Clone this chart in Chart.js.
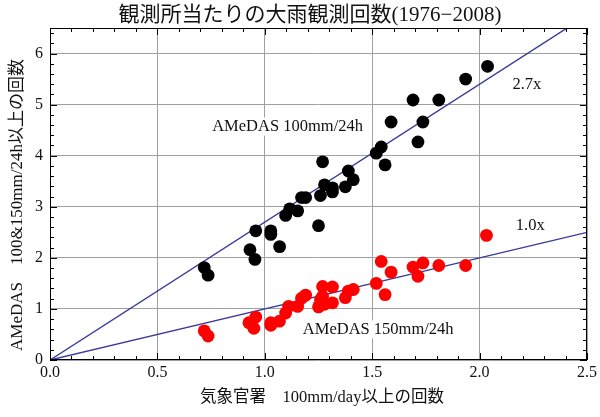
<!DOCTYPE html>
<html><head><meta charset="utf-8">
<script src="https://cdn.jsdelivr.net/npm/chart.js@4.4.0/dist/chart.umd.min.js"></script>
<style>html,body{margin:0;padding:0;background:#fff}</style>
</head><body>
<canvas id="c" width="600" height="417" style="width:600px;height:417px;display:block"></canvas>
<script>
// ---- data ----
const heavy100X = [0.718,0.736,0.931,0.954,0.958,1.028,1.028,1.069,1.097,1.116,1.153,1.171,1.190,1.250,1.259,1.278,1.315,1.315,1.375,1.269,1.389,1.412,1.519,1.542,1.560,1.588,1.690,1.713,1.736,1.810,1.935,2.037];
const heavy100Y = [1.81,1.66,2.16,1.97,2.53,2.53,2.46,2.22,2.83,2.96,2.92,3.18,3.18,2.63,3.22,3.43,3.29,3.37,3.39,3.88,3.70,3.53,4.05,4.17,3.82,4.66,5.09,4.27,4.66,5.09,5.50,5.75];
const heavy150X = [0.718,0.736,0.926,0.949,0.958,1.028,1.028,1.068,1.097,1.111,1.153,1.171,1.190,1.250,1.259,1.269,1.269,1.278,1.315,1.315,1.375,1.389,1.412,1.519,1.542,1.560,1.588,1.690,1.713,1.736,1.810,1.935,2.032];
const heavy150Y = [0.57,0.47,0.73,0.62,0.84,0.73,0.68,0.76,0.92,1.05,1.05,1.21,1.27,1.04,1.18,1.25,1.44,1.09,1.43,1.12,1.22,1.35,1.38,1.50,1.93,1.28,1.72,1.82,1.64,1.90,1.85,1.85,2.44];
const slopes = [2.7, 1.0];
const xTickValues = [0, 0.5, 1.0, 1.5, 2.0, 2.5];
const yTickValues = [0, 1, 2, 3, 4, 5, 6];
const xRange = [0, 2.5];
const yRange = [0, 6.5];
const titleText = '観測所当たりの大雨観測回数(1976−2008)';
const xTitle = '気象官署　100mm/day以上の回数';
const yTitle = 'AMeDAS　100&150mm/24h以上の回数';
const labels = ['AMeDAS 100mm/24h', '2.7x', '1.0x', 'AMeDAS 150mm/24h'];

const SERIF = '"Liberation Serif", "Noto Sans CJK JP", serif';
const toPts = (xs, ys) => xs.map((x, i) => ({x: x, y: ys[i]}));
const linePts = s => [{x: xRange[0], y: xRange[0] * s}, {x: xRange[1], y: xRange[1] * s}];

const textPlacement = [ // data-space anchors for the annotation texts
  {t: labels[0], x: 1.106, y: 4.57},
  {t: labels[1], x: 2.22, y: 5.39},
  {t: labels[2], x: 2.236, y: 2.63},
  {t: labels[3], x: 1.528, y: 0.60}
];

const decor = {
  id: 'decor',
  afterDraw(chart) {
    const ctx = chart.ctx, a = chart.chartArea;
    const xs = chart.scales.x, ys = chart.scales.y;
    ctx.save();
    ctx.strokeStyle = '#000';
    ctx.lineWidth = 1;
    ctx.strokeRect(a.left + 0.5, a.top + 0.5, a.right - a.left - 1, a.bottom - a.top - 1);
    ctx.beginPath();
    for (let i = 0; i <= 25; i++) {
      const v = i / 10;
      const px = Math.round(xs.getPixelForValue(v)) + 0.5;
      const len = (i % 5 === 0) ? 7 : 4;
      ctx.moveTo(px, a.bottom); ctx.lineTo(px, a.bottom - len);
      ctx.moveTo(px, a.top); ctx.lineTo(px, a.top + len);
    }
    for (let i = 0; i <= 32; i++) {
      const v = i / 5;
      const py = Math.round(ys.getPixelForValue(v)) + 0.5;
      const len = (i % 5 === 0) ? 7 : 4;
      ctx.moveTo(a.left, py); ctx.lineTo(a.left + len, py);
      ctx.moveTo(a.right, py); ctx.lineTo(a.right - len, py);
    }
    ctx.stroke();

    ctx.fillStyle = '#111';
    ctx.textAlign = 'center';
    ctx.textBaseline = 'middle';
    ctx.font = '16.5px ' + SERIF;
    textPlacement.forEach(p => {
      const px = xs.getPixelForValue(p.x), py = ys.getPixelForValue(p.y);
      ctx.fillStyle = '#fff';
      const w = ctx.measureText(p.t).width;
      if (p.t.length > 5) ctx.fillRect(px - w / 2 - 3, py - 9, w + 6, 18);
      ctx.fillStyle = '#111';
      ctx.fillText(p.t, px, py);
    });

    ctx.font = '21px ' + SERIF;
    ctx.fillText(titleText, 310, 15);
    ctx.font = '16.5px ' + SERIF;
    ctx.fillText(xTitle, 322, 398);
    ctx.translate(18, 205);
    ctx.rotate(-Math.PI / 2);
    ctx.font = '17px ' + SERIF;
    ctx.fillText(yTitle, 0, 0);
    ctx.restore();
  }
};

new Chart(document.getElementById('c'), {
  type: 'scatter',
  data: {
    datasets: [
      {label: 'AMeDAS 100mm/24h', data: toPts(heavy100X, heavy100Y), backgroundColor: '#000', borderWidth: 0, pointRadius: 6.4, order: 1},
      {label: 'AMeDAS 150mm/24h', data: toPts(heavy150X, heavy150Y), backgroundColor: '#ff0000', borderWidth: 0, pointRadius: 6.4, order: 1},
      {type: 'line', label: '2.7x', data: linePts(slopes[0]), borderColor: '#3a3a9c', borderWidth: 1.4, pointRadius: 0, fill: false, order: 2},
      {type: 'line', label: '1.0x', data: linePts(slopes[1]), borderColor: '#3a3a9c', borderWidth: 1.4, pointRadius: 0, fill: false, order: 2}
    ]
  },
  options: {
    responsive: false,
    animation: false,
    devicePixelRatio: 1,
    layout: {padding: {top: 28, right: 10, left: 0, bottom: 0}},
    plugins: {legend: {display: false}, tooltip: {enabled: false}, title: {display: false}},
    scales: {
      x: {
        type: 'linear', min: xRange[0], max: xRange[1],
        afterBuildTicks: s => { s.ticks = xTickValues.map(v => ({value: v})); },
        afterFit: s => { s.height = 57; },
        ticks: {callback: v => Number(v).toFixed(1), font: {family: SERIF, size: 16}, color: '#111', padding: 3, maxRotation: 0, autoSkip: false},
        grid: {color: '#a0a0a0', lineWidth: 1, drawTicks: false},
        border: {display: false}
      },
      y: {
        type: 'linear', min: yRange[0], max: yRange[1],
        afterBuildTicks: s => { s.ticks = yTickValues.map(v => ({value: v})); },
        afterFit: s => { s.width = 50; },
        ticks: {callback: v => String(v), font: {family: SERIF, size: 16}, color: '#111', padding: 7, autoSkip: false},
        grid: {color: '#a0a0a0', lineWidth: 1, drawTicks: false},
        border: {display: false}
      }
    }
  },
  plugins: [decor]
});
</script>
</body></html>
